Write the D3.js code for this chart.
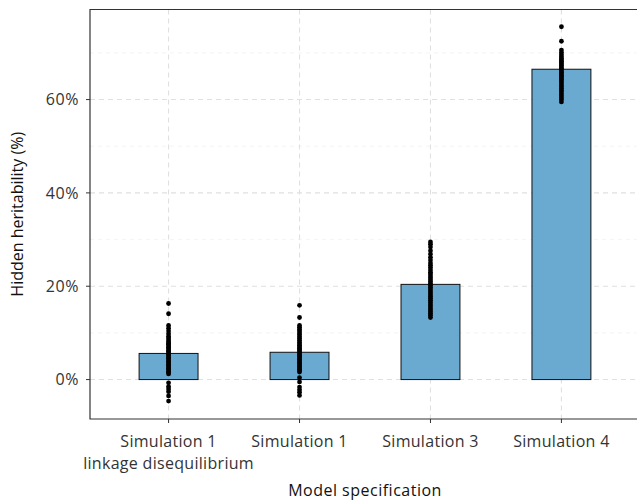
<!DOCTYPE html>
<html>
<head>
<meta charset="utf-8">
<script src="https://cdnjs.cloudflare.com/ajax/libs/d3/7.8.5/d3.min.js"></script>
<style>
  body { margin: 0; background: #fff; }
  text { font-family: "Open Sans", "Noto Sans", sans-serif; }
</style>
</head>
<body>
<script>
var width = 637;
var height = 501;

// categories, bar heights and the simulation points (in %)
var categories = [["Simulation 1", "linkage disequilibrium"], ["Simulation 1"], ["Simulation 3"], ["Simulation 4"]];
var barValues = [5.6, 5.85, 20.4, 66.5];
var sim1ld = [16.3, 14.1, 11.6, 11.0, 10.4, 9.8, 9.3, 8.9, 8.5, 8.1, 7.8, 7.5, 7.2, 6.9, 6.6, 6.3, 6.0, 5.7, 5.4, 5.1, 4.8, 4.5, 4.2, 3.9, 3.6, 3.3, 3.0, 2.7, 2.4, 2.1, 1.8, 1.5, 1.2, -0.7, -1.5, -2.0, -2.6, -3.5, -4.6];
var sim1 = [15.9, 13.3, 11.6, 11.2, 10.8, 10.4, 10.0, 9.6, 9.2, 8.8, 8.4, 8.0, 7.6, 7.3, 7.0, 6.7, 6.4, 6.1, 5.8, 5.5, 5.2, 4.9, 4.6, 4.3, 4.0, 3.7, 3.4, 3.1, 2.8, 2.5, 2.2, 1.9, 1.6, 0.4, -0.5, -1.6, -2.2, -2.7, -3.4];
var sim3 = [29.5, 29.0, 28.4, 27.6, 26.9, 26.2, 25.6, 25.0, 24.5, 24.0, 23.5, 23.0, 22.6, 22.2, 21.8, 21.4, 21.0, 20.6, 20.2, 19.8, 19.4, 19.0, 18.6, 18.2, 17.8, 17.4, 17.0, 16.6, 16.2, 15.8, 15.4, 15.0, 14.6, 14.2, 13.8, 13.3];
var sim4 = [75.6, 72.5, 70.6, 70.1, 69.6, 69.2, 68.8, 68.5, 68.2, 67.9, 67.6, 67.3, 67.0, 66.7, 66.4, 66.1, 65.8, 65.5, 65.2, 64.9, 64.6, 64.3, 64.0, 63.6, 63.2, 62.8, 62.4, 62.0, 61.6, 61.2, 60.8, 60.4, 60.0, 59.5];
var points = [sim1ld, sim1, sim3, sim4];
var majorTicks = [0, 20, 40, 60];
var minorTicks = [10, 30, 50, 70];

// panel edges (the right edge runs past the picture)
var pLeft = 90, pTop = 9.5, pRight = 640, pBottom = 419;

var svg = d3.select("body").append("svg")
    .attr("width", width)
    .attr("height", height);

var x = d3.scaleLinear().domain([-0.6, 3.6]).range([pLeft, pRight]);
var y = d3.scaleLinear().domain([-8.45, 79.3]).range([pBottom, pTop]);
var barW = 0.45;

// grid
svg.selectAll(".minor").data(minorTicks).enter().append("line")
    .attr("x1", pLeft).attr("x2", pRight)
    .attr("y1", function(d) { return y(d); })
    .attr("y2", function(d) { return y(d); })
    .style("stroke", "#ededed")
    .style("stroke-width", 0.6)
    .style("stroke-dasharray", "4,4");

svg.selectAll(".major").data(majorTicks).enter().append("line")
    .attr("x1", pLeft).attr("x2", pRight)
    .attr("y1", function(d) { return y(d); })
    .attr("y2", function(d) { return y(d); })
    .style("stroke", "#e0e0e0")
    .style("stroke-width", 1.1)
    .style("stroke-dasharray", "5,4");

svg.selectAll(".vgrid").data(categories).enter().append("line")
    .attr("x1", function(d, i) { return x(i); })
    .attr("x2", function(d, i) { return x(i); })
    .attr("y1", pTop).attr("y2", pBottom)
    .style("stroke", "#e0e0e0")
    .style("stroke-width", 1.1)
    .style("stroke-dasharray", "5,4");

// bars
svg.selectAll(".bar").data(barValues).enter().append("rect")
    .attr("x", function(d, i) { return x(i - barW / 2); })
    .attr("width", x(barW) - x(0))
    .attr("y", function(d) { return y(d); })
    .attr("height", function(d) { return y(0) - y(d); })
    .attr("fill", "#6aa9d0")
    .attr("stroke", "#111")
    .attr("stroke-width", 1);

// points
points.forEach(function(vals, i) {
    svg.selectAll(".dot" + i).data(vals).enter().append("circle")
        .attr("cx", x(i))
        .attr("cy", function(d) { return y(d); })
        .attr("r", 2.4)
        .attr("fill", "#000");
});

// panel border
svg.append("path")
    .attr("d", "M" + pRight + "," + pTop + "H" + pLeft + "V" + pBottom + "H" + pRight)
    .attr("fill", "none")
    .attr("stroke", "#333")
    .attr("stroke-width", 1.2);

// y ticks
var yt = svg.selectAll(".ytick").data(majorTicks).enter().append("g");
yt.append("line")
    .attr("x1", pLeft - 4).attr("x2", pLeft)
    .attr("y1", function(d) { return y(d); })
    .attr("y2", function(d) { return y(d); })
    .attr("stroke", "#333");
yt.append("text")
    .attr("x", pLeft - 11)
    .attr("y", function(d) { return y(d); })
    .attr("dy", "0.35em")
    .attr("text-anchor", "end")
    .style("font-size", "16px")
    .style("letter-spacing", "0.6px")
    .style("fill", "#333")
    .text(function(d) { return d + "%"; });

// x ticks
var xt = svg.selectAll(".xtick").data(categories).enter().append("g");
xt.append("line")
    .attr("x1", function(d, i) { return x(i); })
    .attr("x2", function(d, i) { return x(i); })
    .attr("y1", pBottom).attr("y2", pBottom + 4)
    .attr("stroke", "#333");
xt.each(function(d, i) {
    var g = d3.select(this);
    d.forEach(function(line, j) {
        g.append("text")
            .attr("x", x(i))
            .attr("y", 447 + j * 22)
            .attr("text-anchor", "middle")
            .style("font-size", "16px")
            .style("letter-spacing", "0.3px")
            .style("fill", "#333")
            .text(line);
    });
});

// axis titles
svg.append("text")
    .attr("x", (pLeft + pRight) / 2)
    .attr("y", 496)
    .attr("text-anchor", "middle")
    .style("font-size", "16px")
    .style("letter-spacing", "0.5px")
    .style("fill", "#111")
    .text("Model specification");

svg.append("text")
    .attr("transform", "translate(23," + ((pTop + pBottom) / 2) + ") rotate(-90)")
    .attr("text-anchor", "middle")
    .style("font-size", "16px")
    .style("fill", "#111")
    .text("Hidden heritability (%)");
</script>
</body>
</html>
